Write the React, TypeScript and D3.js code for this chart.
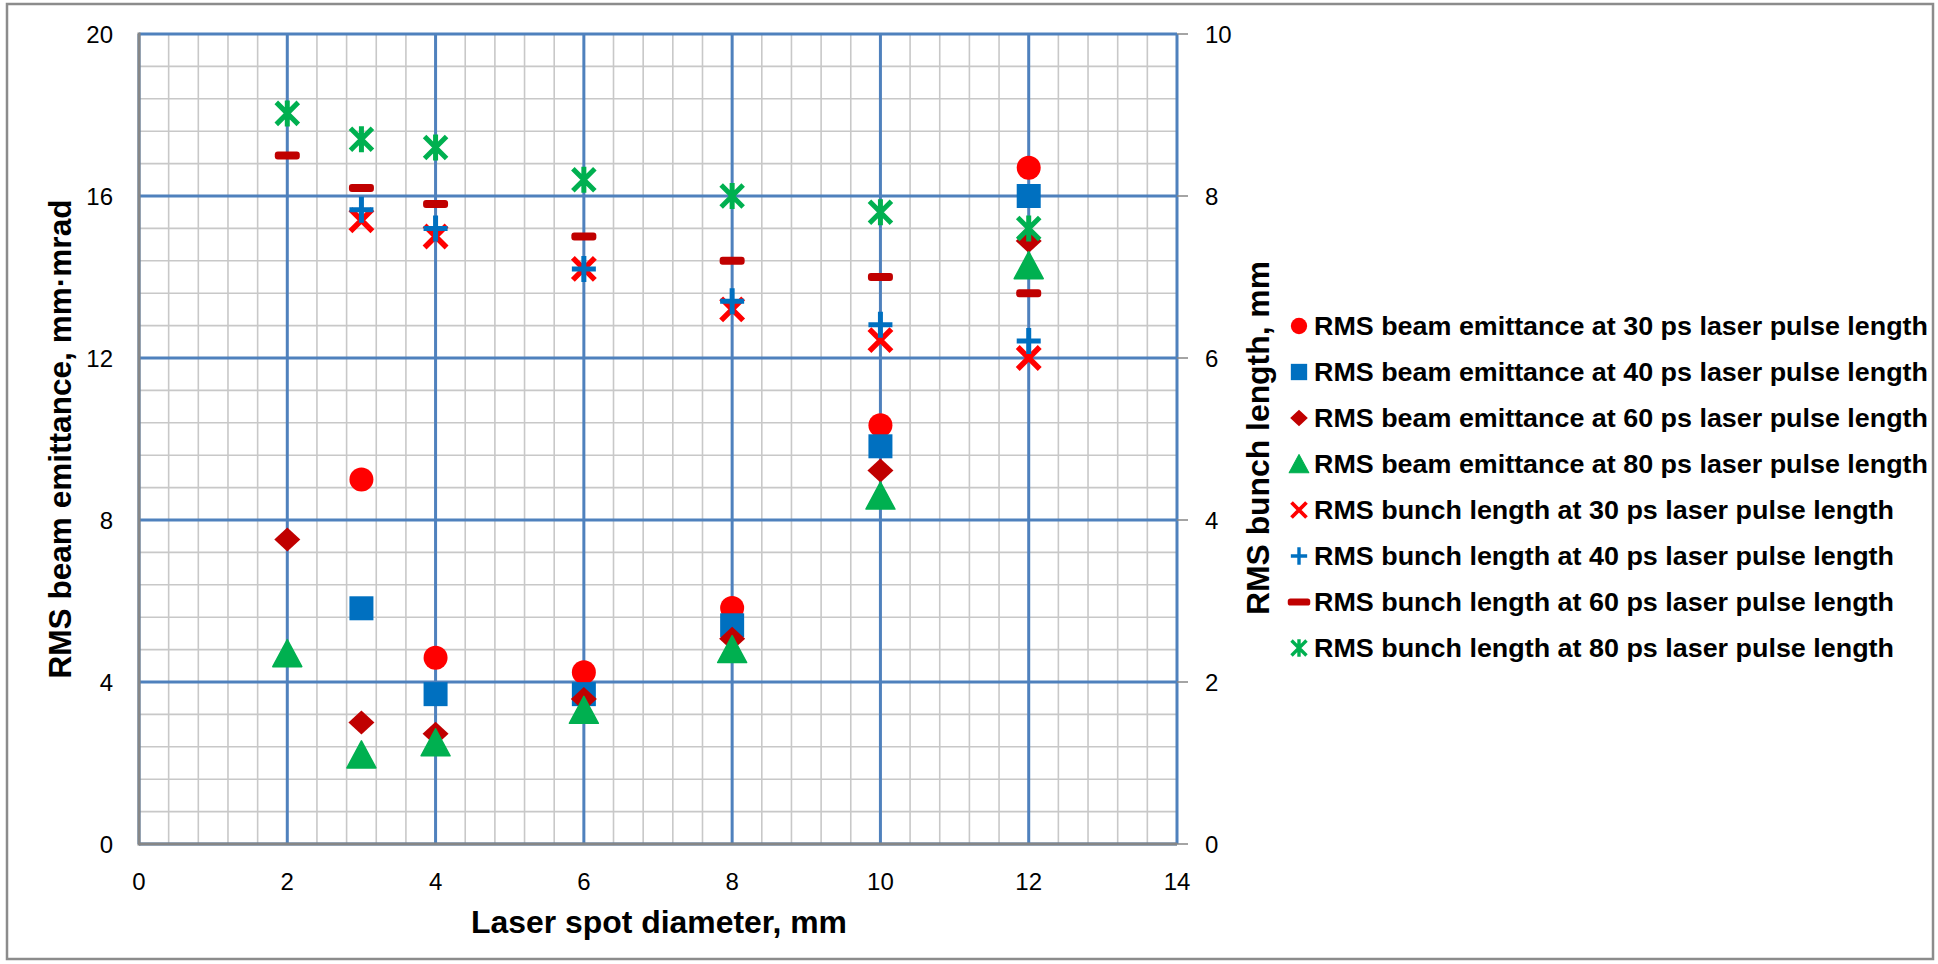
import React from 'react';
import * as d3 from 'd3';

// laser spot diameters, mm
const spot6 = [3, 4, 6, 8, 10, 12];
const spot7 = [2, 3, 4, 6, 8, 10, 12];

// RMS beam emittance, mm·mrad (left axis)
const emit30 = [9.0, 4.6, 4.24, 5.83, 10.34, 16.7];
const emit40 = [5.82, 3.7, 3.7, 5.4, 9.82, 16.0];
const emit60 = [7.52, 3.0, 2.72, 3.58, 5.07, 9.22, 14.89];
const emit80 = [4.7, 2.2, 2.5, 3.3, 4.8, 8.59, 14.28];

// RMS bunch length, mm (right axis)
const bunch30 = [7.7, 7.5, 7.1, 6.6, 6.22, 6.0];
const bunch40 = [7.83, 7.6, 7.1, 6.7, 6.41, 6.21];
const bunch60 = [8.5, 8.1, 7.9, 7.5, 7.2, 7.0, 6.8];
const bunch80 = [9.02, 8.7, 8.6, 8.2, 8.0, 7.8, 7.6];

const xTicks = [0, 2, 4, 6, 8, 10, 12, 14];
const leftTicks = [0, 4, 8, 12, 16, 20];
const rightTicks = [0, 2, 4, 6, 8, 10];

const legendNames = [
  'RMS beam emittance at 30 ps laser pulse length',
  'RMS beam emittance at 40 ps laser pulse length',
  'RMS beam emittance at 60 ps laser pulse length',
  'RMS beam emittance at 80 ps laser pulse length',
  'RMS bunch length at 30 ps laser pulse length',
  'RMS bunch length at 40 ps laser pulse length',
  'RMS bunch length at 60 ps laser pulse length',
  'RMS bunch length at 80 ps laser pulse length',
];

const RED = '#FF0000';
const BLUE = '#0070C0';
const DARKRED = '#C00000';
const GREEN = '#00B050';

type Shape = 'circle' | 'square' | 'diamond' | 'triangle' | 'x' | 'plus' | 'dash' | 'star';

const series: { xs: number[]; ys: number[]; right: boolean; shape: Shape; color: string }[] = [
  { xs: spot6, ys: emit30, right: false, shape: 'circle', color: RED },
  { xs: spot6, ys: emit40, right: false, shape: 'square', color: BLUE },
  { xs: spot7, ys: emit60, right: false, shape: 'diamond', color: DARKRED },
  { xs: spot7, ys: emit80, right: false, shape: 'triangle', color: GREEN },
  { xs: spot6, ys: bunch30, right: true, shape: 'x', color: RED },
  { xs: spot6, ys: bunch40, right: true, shape: 'plus', color: BLUE },
  { xs: spot7, ys: bunch60, right: true, shape: 'dash', color: DARKRED },
  { xs: spot7, ys: bunch80, right: true, shape: 'star', color: GREEN },
];

const plot = { left: 139, right: 1177, top: 34, bottom: 844 };

const x = d3.scaleLinear().domain([0, 14]).range([plot.left, plot.right]);
const yL = d3.scaleLinear().domain([0, 20]).range([plot.bottom, plot.top]);
const yR = d3.scaleLinear().domain([0, 10]).range([plot.bottom, plot.top]);

const tickFont = '"Liberation Sans", Arial, sans-serif';
const boldFont = '"Liberation Sans", Arial, sans-serif';

// marker glyph centred at cx, cy; k scales it down for the legend
const Marker = ({ shape, color, cx, cy, k = 1 }: { shape: Shape; color: string; cx: number; cy: number; k?: number }) => {
  const t = `translate(${cx},${cy}) scale(${k})`;
  switch (shape) {
    case 'circle':
      return <circle cx={cx} cy={cy} r={12 * k} fill={color} />;
    case 'square':
      return <rect x={cx - 12 * k} y={cy - 12 * k} width={24 * k} height={24 * k} fill={color} />;
    case 'diamond':
      return <path transform={t} d="M0,-12 L13,0 L0,12 L-13,0 Z" fill={color} />;
    case 'triangle':
      return <path transform={t} d="M0,-14 L14.5,13 L-14.5,13 Z" fill={color} stroke={color} strokeWidth={1.5} strokeLinejoin="round" />;
    case 'x':
      return <path transform={t} d="M-11,-11 L11,11 M11,-11 L-11,11" stroke={color} strokeWidth={5.5} fill="none" />;
    case 'plus':
      return <path transform={t} d="M-12,0 L12,0 M0,-13 L0,13" stroke={color} strokeWidth={5} fill="none" />;
    case 'dash':
      return <rect transform={t} x={-12.5} y={-4} width={25} height={8} rx={3} fill={color} />;
    case 'star':
      return <path transform={t} d="M-11,-11 L11,11 M11,-11 L-11,11 M0,-13 L0,13" stroke={color} strokeWidth={5} fill="none" />;
  }
  return null;
};

const App = () => {
  const xMinor = d3.range(0, 14.001, 0.4);
  const yMinor = d3.range(0, 20.001, 0.8);

  return (
    <svg width={1938} height={964} style={{ position: 'fixed', left: 0, top: 0, background: '#fff' }}>
      <rect x={0} y={0} width={1938} height={964} fill="#fff" />
      <rect x={7} y={4} width={1926} height={955} fill="none" stroke="#8c8c8c" strokeWidth={2.5} />

      {/* minor gridlines */}
      <g stroke="#c8c8c8" strokeWidth={1.6}>
        {xMinor.map((v, i) => (
          <line key={'xm' + i} x1={x(v)} x2={x(v)} y1={plot.top} y2={plot.bottom} />
        ))}
        {yMinor.map((v, i) => (
          <line key={'ym' + i} x1={plot.left} x2={plot.right} y1={yL(v)} y2={yL(v)} />
        ))}
      </g>

      {/* major gridlines */}
      <g stroke="#4F81BD" strokeWidth={3}>
        {xTicks.map((v) => (
          <line key={'xM' + v} x1={x(v)} x2={x(v)} y1={plot.top} y2={plot.bottom} />
        ))}
        {leftTicks.map((v) => (
          <line key={'yM' + v} x1={plot.left} x2={plot.right} y1={yL(v)} y2={yL(v)} />
        ))}
      </g>

      {/* axes */}
      <line x1={plot.left} x2={plot.left} y1={plot.top - 1.5} y2={plot.bottom + 1.5} stroke="#868686" strokeWidth={3} />
      <line x1={plot.left} x2={plot.right} y1={plot.bottom} y2={plot.bottom} stroke="#868686" strokeWidth={3} />
      <g stroke="#868686" strokeWidth={1.5}>
        {rightTicks.map((v) => (
          <line key={'rt' + v} x1={plot.right} x2={plot.right + 11} y1={yR(v)} y2={yR(v)} />
        ))}
      </g>

      {/* tick labels */}
      <g fontFamily={tickFont} fontSize={24} fill="#000">
        {leftTicks.map((v) => (
          <text key={'lt' + v} x={113} y={yL(v)} textAnchor="end" dominantBaseline="central">{v}</text>
        ))}
        {rightTicks.map((v) => (
          <text key={'rl' + v} x={1205} y={yR(v)} textAnchor="start" dominantBaseline="central">{v}</text>
        ))}
        {xTicks.map((v) => (
          <text key={'xt' + v} x={x(v)} y={881} textAnchor="middle" dominantBaseline="central">{v}</text>
        ))}
      </g>

      {/* axis titles */}
      <g fontFamily={boldFont} fontSize={32} fontWeight="bold" fill="#000">
        <text x={659} y={933} textAnchor="middle" textLength={376} lengthAdjust="spacingAndGlyphs">Laser spot diameter, mm</text>
        <text x={71} y={439} transform="rotate(-90, 71, 439)" textAnchor="middle" textLength={479} lengthAdjust="spacingAndGlyphs">RMS beam emittance, mm·mrad</text>
        <text x={1269} y={438} transform="rotate(-90, 1269, 438)" textAnchor="middle" textLength={354} lengthAdjust="spacingAndGlyphs">RMS bunch length, mm</text>
      </g>

      {/* data markers */}
      {series.map((s, si) => (
        <g key={'s' + si}>
          {s.xs.map((xv, i) => (
            <Marker key={i} shape={s.shape} color={s.color} cx={x(xv)} cy={s.right ? yR(s.ys[i]) : yL(s.ys[i])} />
          ))}
        </g>
      ))}

      {/* legend */}
      <g fontFamily={boldFont} fontSize={25} fontWeight="bold" fill="#000">
        {legendNames.map((name, i) => {
          const cy = 326 + i * 46;
          const s = series[i];
          return (
            <g key={'lg' + i}>
              <Marker shape={s.shape} color={s.color} cx={1299} cy={cy} k={s.shape === 'dash' ? 0.9 : 0.68} />
              <text x={1314} y={cy} dominantBaseline="central" textLength={i < 4 ? 614 : 580} lengthAdjust="spacingAndGlyphs">{name}</text>
            </g>
          );
        })}
      </g>
    </svg>
  );
};

export default App;
